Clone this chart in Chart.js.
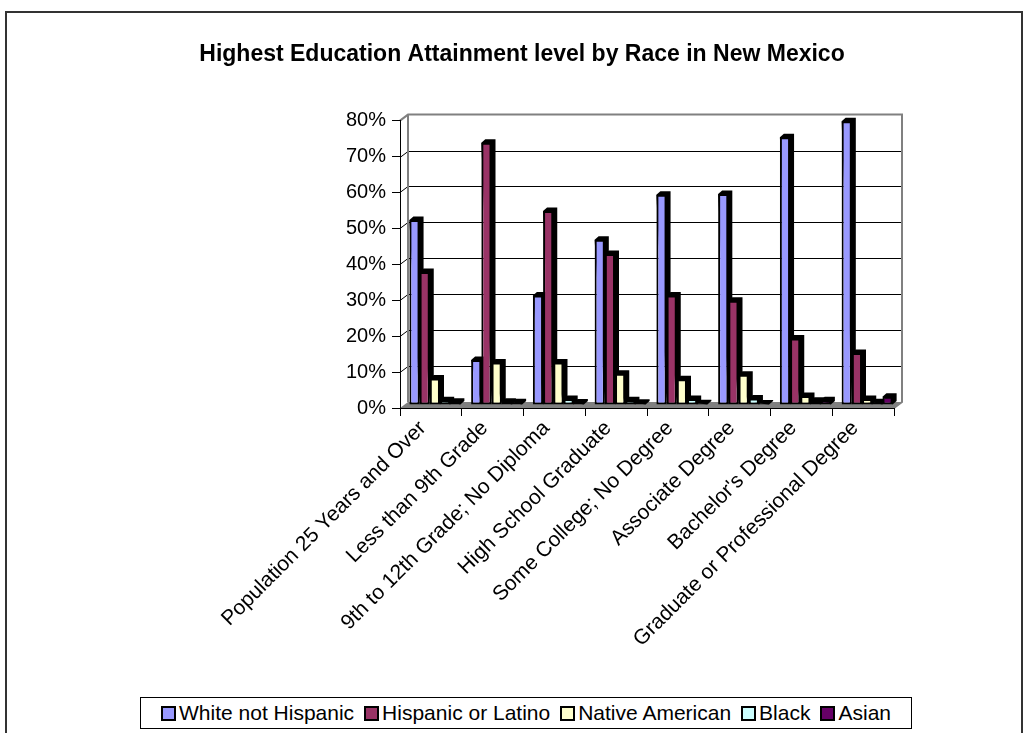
<!DOCTYPE html>
<html>
<head>
<meta charset="utf-8">
<title>Highest Education Attainment level by Race in New Mexico</title>
<script src="https://cdn.jsdelivr.net/npm/chart.js@4.4.1/dist/chart.umd.min.js"></script>
<style>
    html, body { margin: 0; padding: 0; background: #fff; overflow: hidden; }
    #frame { position: absolute; left: 5px; top: 11px; width: 1014px; height: 780px; border: 2px solid #333; }
    #wrap { position: absolute; left: 0; top: 0; width: 1027px; height: 733px; }
    #legend {
        position: absolute; left: 140px; top: 697px; width: 770px; height: 30px;
        border: 1px solid #000; background: #fff;
        display: flex; align-items: center; justify-content: center;
        font: 21px Arial, "Liberation Sans", sans-serif; color: #000;
    }
    .item { display: flex; align-items: center; margin: 0 5px; white-space: nowrap; }
    .swatch { width: 11px; height: 11px; border: 2px solid #000; margin-right: 3px; }
</style>
</head>
<body>
<div id="frame"></div>
<div id="wrap"><canvas id="eduChart" width="1027" height="733"></canvas></div>
<div id="legend"></div>
<script>
// categories (x axis)
const categories = [
    'Population 25 Years and Over',
    'Less than 9th Grade',
    '9th to 12th Grade; No Diploma',
    'High School Graduate',
    'Some College; No Degree',
    'Associate Degree',
    "Bachelor's Degree",
    'Graduate or Professional Degree'
];

// share of each level by race, in percent
const whiteNotHispanic = [51.5, 12.5, 30.5, 46, 58.5, 58.7, 74.5, 79];
const hispanicOrLatino = [37, 73, 54, 42, 30.5, 29, 18.5, 14.5];
const nativeAmerican   = [7.4, 11.8, 11.8, 8.7, 7.2, 8.4, 2.5, 1.7];
const black            = [1.3, 0.9, 1.7, 1.3, 1.7, 1.8, 1.2, 0.8];
const asian            = [0.9, 0.8, 0.7, 0.6, 0.5, 0.4, 1.3, 2.3];

const seriesNames  = ['White not Hispanic', 'Hispanic or Latino', 'Native American', 'Black', 'Asian'];
const seriesValues = [whiteNotHispanic, hispanicOrLatino, nativeAmerican, black, asian];
const seriesColors = ['#9999FF', '#993366', '#FFFFCC', '#CCFFFF', '#660066'];

// y axis ticks (percent)
const yMax = 80;
const yStep = 10;

const FONT = 'Arial, "Liberation Sans", sans-serif';

// depth of the walls and of each bar
const WALL_DX = 8, WALL_DY = -6;
const BAR_DX = 4, BAR_DY = -3.5;

// back walls, floor and grid of the 3-D box
const wallsPlugin = {
    id: 'walls3d',
    beforeDraw(chart) {
        const { ctx, chartArea: a, scales: { y } } = chart;
        const top = y.getPixelForValue(yMax);
        ctx.save();

        // floor
        ctx.fillStyle = '#808080';
        ctx.beginPath();
        ctx.moveTo(a.left, a.bottom);
        ctx.lineTo(a.right, a.bottom);
        ctx.lineTo(a.right + WALL_DX, a.bottom + WALL_DY);
        ctx.lineTo(a.left + WALL_DX, a.bottom + WALL_DY);
        ctx.closePath();
        ctx.fill();

        // gridlines on side wall + back wall
        ctx.strokeStyle = '#000';
        ctx.lineWidth = 1;
        for (let v = yStep; v < yMax; v += yStep) {
            const py = Math.round(y.getPixelForValue(v)) + 0.5;
            ctx.beginPath();
            ctx.moveTo(a.left, py);
            ctx.lineTo(a.left + WALL_DX, py + WALL_DY);
            ctx.lineTo(a.right + WALL_DX, py + WALL_DY);
            ctx.stroke();
        }

        // wall edges
        ctx.strokeStyle = '#808080';
        ctx.lineWidth = 2;
        ctx.beginPath();
        ctx.moveTo(a.left, top);
        ctx.lineTo(a.left + WALL_DX, top + WALL_DY);
        ctx.lineTo(a.right + WALL_DX, top + WALL_DY);
        ctx.lineTo(a.right + WALL_DX, a.bottom + WALL_DY);
        ctx.lineTo(a.right, a.bottom);
        ctx.moveTo(a.left + WALL_DX, top + WALL_DY);
        ctx.lineTo(a.left + WALL_DX, a.bottom + WALL_DY);
        ctx.stroke();
        ctx.restore();
    },
    beforeDatasetsDraw(chart) {
        const ctx = chart.ctx;
        ctx.save();
        // bars stand half way into the box
        ctx.translate(WALL_DX / 2, WALL_DY / 2);
        // top and right faces, the front faces are drawn over them
        ctx.fillStyle = '#000';
        chart.getSortedVisibleDatasetMetas().forEach(meta => {
            meta.data.forEach(bar => {
                const { x, y, base, width } = bar.getProps(['x', 'y', 'base', 'width'], true);
                const x0 = x - width / 2, x1 = x + width / 2;
                ctx.beginPath();
                ctx.moveTo(x0, y);
                ctx.lineTo(x0 + BAR_DX, y + BAR_DY);
                ctx.lineTo(x1 + BAR_DX, y + BAR_DY);
                ctx.lineTo(x1 + BAR_DX, base + BAR_DY);
                ctx.lineTo(x1, base);
                ctx.closePath();
                ctx.fill();
            });
        });
    },
    afterDatasetsDraw(chart) {
        chart.ctx.restore();
    }
};

const barData = {
    labels: categories,
    datasets: seriesNames.map((name, i) => ({
        label: name,
        data: seriesValues[i],
        backgroundColor: seriesColors[i],
        borderColor: '#000',
        borderWidth: 2,
        borderSkipped: false,
        categoryPercentage: 0.826,
        barPercentage: 1.0,
        clip: false
    }))
};

const barOptions = {
    responsive: false,
    animation: false,
    // left/right padding keeps the title centred on the page
    layout: { padding: { left: 150, right: 133, top: 0, bottom: 0 } },
    plugins: {
        legend: { display: false },
        tooltip: { enabled: false },
        title: {
            display: true,
            text: 'Highest Education Attainment level by Race in New Mexico',
            color: '#000',
            font: { family: FONT, size: 23, weight: 'bold' },
            padding: { top: 41, bottom: 52 }
        }
    },
    scales: {
        x: {
            afterFit(scale) { scale.height = 325; },
            grid: { drawOnChartArea: false, tickLength: 8, color: '#000' },
            border: { color: '#000', width: 1 },
            ticks: {
                color: '#000',
                font: { family: FONT, size: 21 },
                minRotation: 45,
                maxRotation: 45,
                autoSkip: false,
                labelOffset: -8,
                padding: 0
            }
        },
        y: {
            min: 0,
            max: yMax,
            afterFit(scale) { scale.width = 250; },
            grid: { drawOnChartArea: false, tickLength: 8, color: '#000' },
            border: { color: '#000', width: 1 },
            ticks: {
                stepSize: yStep,
                padding: 6,
                color: '#000',
                font: { family: FONT, size: 20 },
                callback: v => v + '%'
            }
        }
    }
};

new Chart(document.getElementById('eduChart'), {
    type: 'bar',
    data: barData,
    options: barOptions,
    plugins: [wallsPlugin]
});

// legend row
const legend = document.getElementById('legend');
seriesNames.forEach((name, i) => {
    const item = document.createElement('span');
    item.className = 'item';
    const sw = document.createElement('span');
    sw.className = 'swatch';
    sw.style.background = seriesColors[i];
    item.appendChild(sw);
    item.appendChild(document.createTextNode(name));
    legend.appendChild(item);
});
</script>
</body>
</html>
